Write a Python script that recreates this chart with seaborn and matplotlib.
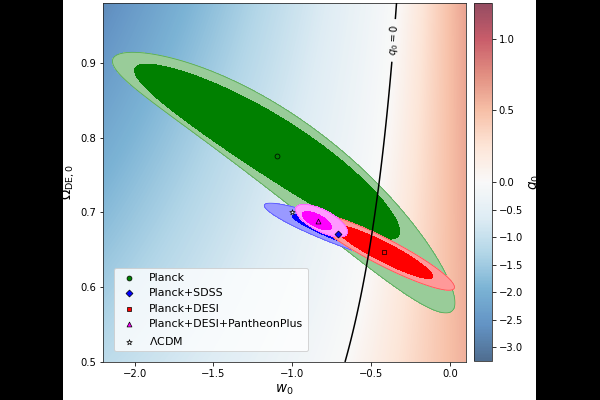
import numpy as np
import matplotlib
matplotlib.use('Agg')
import matplotlib.pyplot as plt
from matplotlib.colors import TwoSlopeNorm
from matplotlib.patches import Rectangle
import seaborn as sns

# plane of (w0, Omega_DE0)
w0_range = [-2.5, 0.5]
om_range = [0.5, 1.0]
x_lim = [-2.2, 0.1]
y_lim = [0.5, 0.98]
cbar_ticks = [-3.0, -2.5, -2.0, -1.5, -1.0, -0.5, 0.0, 0.5, 1.0]

# best fit points
labels = ['Planck', 'Planck+SDSS', 'Planck+DESI', 'Planck+DESI+PantheonPlus', r'$\Lambda$CDM']
best_w0 = [-1.10, -0.71, -0.42, -0.84, -1.0]
best_om = [0.776, 0.671, 0.647, 0.688, 0.700]
markers = ['o', 'D', 's', '^', '*']
dark = ['#008000', '#0000ff', '#ff0000', '#ff00ff', 'white']
light = ['#99cc99', '#9999ff', '#ff9999', '#ff99ff']

# confidence regions (outer = 95%, inner = 68%)
# centre w0, half length in w0, centre Omega, slope, curvature, half width, width growth
out_wc = [-1.055, -0.708, -0.42, -0.815]
out_hl = [1.085, 0.47, 0.447, 0.165]
out_oc = [0.7774, 0.672, 0.647, 0.689]
out_slope = [-0.1488, -0.079, -0.105, -0.09]
out_curv = [-0.0312, 0.0, 0.0, 0.0]
out_hw = [0.062, 0.016, 0.020, 0.016]
out_grow = [0.28, 0.0, 0.0, 0.0]

in_wc = [-1.16, -0.708, -0.42, -0.845]
in_hl = [0.84, 0.29, 0.31, 0.092]
in_oc = [0.7927, 0.672, 0.647, 0.689]
in_slope = [-0.1282, -0.079, -0.105, -0.09]
in_curv = [-0.015, 0.0, 0.0, 0.0]
in_hw = [0.045, 0.010, 0.014, 0.009]
in_grow = [0.15, 0.0, 0.0, 0.0]


def region(W, O, wc, hl, oc, slope, curv, hw, grow):
    d = W - wc
    t = d / hl
    centre = oc + slope * d + curv * d ** 2
    s = (O - centre) / (hw * np.exp(grow * t))
    return t ** 2 + s ** 2


sns.set_style('ticks')
plt.rcParams['font.family'] = ['DejaVu Sans']
plt.rcParams.update({'text.color': 'black', 'axes.labelcolor': 'black',
                     'xtick.color': 'black', 'ytick.color': 'black'})

w0 = np.linspace(w0_range[0], w0_range[1], 900)
om = np.linspace(om_range[0], om_range[1], 700)
W, O = np.meshgrid(w0, om)
Q = 0.5 + 1.5 * W * O

fig = plt.figure(figsize=(600 / 72, 400 / 72), dpi=72, facecolor='black')
fig.patches.append(Rectangle((63 / 600, 0), 473 / 600, 1, transform=fig.transFigure,
                             facecolor='white', edgecolor='none', zorder=-10))
ax = fig.add_axes([103 / 600, 38 / 400, 363 / 600, 359 / 400])
cax = fig.add_axes([474 / 600, 39 / 400, 17.7 / 600, 358 / 400])

norm = TwoSlopeNorm(vmin=Q.min(), vcenter=0.0, vmax=Q.max())
im = ax.imshow(Q, extent=[w0_range[0], w0_range[1], om_range[0], om_range[1]],
               origin='lower', aspect='auto', cmap='RdBu_r', norm=norm, alpha=0.7, zorder=0)

for i in range(4):
    r_out = region(W, O, out_wc[i], out_hl[i], out_oc[i], out_slope[i], out_curv[i], out_hw[i], out_grow[i])
    r_in = region(W, O, in_wc[i], in_hl[i], in_oc[i], in_slope[i], in_curv[i], in_hw[i], in_grow[i])
    ax.contourf(W, O, r_out, levels=[-1, 1], colors=[light[i]], zorder=1 + i * 0.1)
    ax.contour(W, O, r_out, levels=[1], colors=[dark[i]], linewidths=0.8, alpha=0.45, zorder=1 + i * 0.1)
    ax.contourf(W, O, r_in, levels=[-1, 1], colors=[dark[i]], zorder=1.05 + i * 0.1)

cs = ax.contour(W, O, Q, levels=[0.0], colors='k', linewidths=1.5, zorder=3)
ax.clabel(cs, fmt={0.0: r'$q_0 = 0$'}, manual=[(-0.36, 0.93)], inline=True, fontsize=10)

for i in range(5):
    sns.scatterplot(x=[best_w0[i]], y=[best_om[i]], marker=markers[i], color=dark[i],
                    edgecolor='k', linewidth=0.7, s=32 if markers[i] == '*' else 24,
                    label=labels[i], ax=ax, zorder=5)

ax.set_xlim(x_lim)
ax.set_ylim(y_lim)
ax.set_xticks([-2.0, -1.5, -1.0, -0.5, 0.0])
ax.set_yticks([0.5, 0.6, 0.7, 0.8, 0.9])
ax.set_xlabel(r'$w_0$', fontsize=13.5)
ax.set_ylabel(r'$\Omega_{\rm DE,0}$', fontsize=13.5)
ax.legend(loc='lower left', borderaxespad=1.0, fontsize=11, labelspacing=0.5)

cb = fig.colorbar(im, cax=cax)
cb.set_ticks(cbar_ticks)
cb.set_label(r'$q_0$', fontsize=13.5)

fig.savefig('out.png', dpi=72, facecolor='black')
